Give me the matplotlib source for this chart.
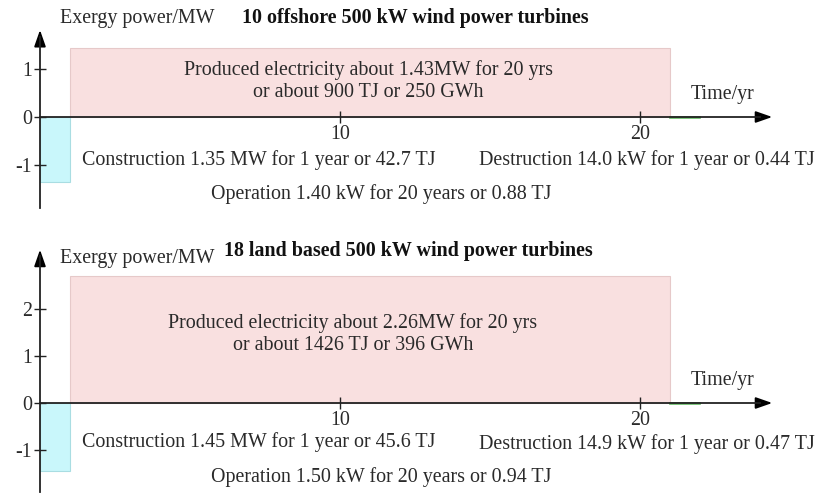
import matplotlib
matplotlib.use("Agg")
import matplotlib.pyplot as plt

plt.rcParams['font.family'] = ['Liberation Serif', 'DejaVu Serif']

# Data
titles = ["10 offshore 500 kW wind power turbines", "18 land based 500 kW wind power turbines"]
construction_mw = [1.35, 1.45]          # year 0-1, negative
produced_box_mw = [1.43, 2.70]          # year 1-21 box height as drawn
destruction_mw = [0.014, 0.0149]        # year 21-22, negative
construction_years = [0, 1]
production_years = [1, 21]
destruction_years = [21, 22]
y_ticks = [[-1, 0, 1], [-1, 0, 1, 2]]
x_ticks = [10, 20]
produced_text = ["Produced electricity about 1.43MW for 20 yrs\nor about 900 TJ or 250 GWh",
                 "Produced electricity about 2.26MW for 20 yrs\nor about 1426 TJ or 396 GWh"]
construction_text = ["Construction 1.35 MW for 1 year or 42.7 TJ",
                     "Construction 1.45 MW for 1 year or 45.6 TJ"]
destruction_text = ["Destruction 14.0 kW for 1 year or 0.44 TJ",
                    "Destruction 14.9 kW for 1 year or 0.47 TJ"]
operation_text = ["Operation 1.40 kW for 20 years or 0.88 TJ",
                  "Operation 1.50 kW for 20 years or 0.94 TJ"]

W, H = 819, 493
fig = plt.figure(figsize=(W / 100, H / 100), dpi=100)

# pixel geometry of each panel: (top_px, bottom_px, zero_px, px_per_unit, y_axis_top, y_axis_bottom)
panels = [
    (0, 232, 117, 48.0, 1.87, -1.9),
    (238, 493, 403, 47.0, 3.32, -1.9),
]
# per-panel text pixel positions
text_pos = [
    dict(exergy=18, title=(415, 18), prod=(368, 81), time=95, cons=160, dest=160, oper=194),
    dict(exergy=258, title=(408, 251), prod=(353, 334), time=381, cons=442, dest=444, oper=477),
]
x0_px = 40.0
px_per_yr = 30.0
xlim = (-x0_px / px_per_yr, (W - x0_px) / px_per_yr)

fs = 14.4
tc = '#2a2a2a'
for i, (top, bot, zero, ppu, ytop, ybot) in enumerate(panels):
    ax = fig.add_axes([0, 1 - bot / H, 1, (bot - top) / H])
    ax.set_xlim(*xlim)
    ax.set_ylim((zero - bot) / ppu, (zero - top) / ppu)
    ax.patch.set_visible(False)

    # boxes
    ax.bar(construction_years[0], -construction_mw[i], width=construction_years[1] - construction_years[0],
           align='edge', color='#c9f7fb', edgecolor='#a9dde2', linewidth=0.8, zorder=1)
    ax.bar(production_years[0], produced_box_mw[i], width=production_years[1] - production_years[0],
           align='edge', color='#f9e0e0', edgecolor='#e6c9c9', linewidth=0.8, zorder=1)
    ax.bar(destruction_years[0], -destruction_mw[i], width=destruction_years[1] - destruction_years[0],
           align='edge', color='#7cc87c', edgecolor='#66bb66', linewidth=1.2, zorder=1)

    # axes as arrows
    for s in ['top', 'right']:
        ax.spines[s].set_visible(False)
    ax.spines['left'].set_position(('data', 0))
    ax.spines['bottom'].set_position(('data', 0))
    ax.spines['left'].set_bounds(ybot, ytop - 0.2)
    ax.spines['bottom'].set_bounds(0, 24.0)
    for s in ['left', 'bottom']:
        ax.spines[s].set_linewidth(1.3)
        ax.spines[s].set_color('#222222')
        ax.spines[s].set_zorder(3)
    ax.annotate('', xy=(0, ytop), xytext=(0, ytop - 0.3),
                arrowprops=dict(arrowstyle='-|>,head_length=1.0,head_width=0.35', color='black', lw=1.3))
    ax.annotate('', xy=(24.5, 0), xytext=(23.8, 0),
                arrowprops=dict(arrowstyle='-|>,head_length=1.0,head_width=0.35', color='black', lw=1.3))

    ax.set_yticks(y_ticks[i])
    ax.set_yticklabels([str(t) for t in y_ticks[i]])
    ax.set_xticks(x_ticks)
    ax.set_xticklabels([str(t) for t in x_ticks])
    ax.tick_params(axis='both', direction='inout', length=9, width=1.0, colors='#222222',
                   labelsize=fs, labelcolor=tc)
    ax.tick_params(axis='y', pad=1)
    ax.tick_params(axis='x', pad=1)

    def px2data(px, py):
        return ((px - x0_px) / px_per_yr, (zero - py) / ppu)

    tp = text_pos[i]
    kw = dict(fontsize=fs, color=tc)
    ax.text(*px2data(60, tp['exergy']), "Exergy power/MW", ha='left', va='center', **kw)
    ax.text(*px2data(*tp['title']), titles[i],
            ha='center', va='center', fontweight='bold', fontsize=fs, color='#111111')
    ax.text(*px2data(*tp['prod']), produced_text[i], ha='center', va='center',
            linespacing=1.15, **kw)
    ax.text(*px2data(723, tp['time']), "Time/yr", ha='center', va='center', **kw)
    ax.text(*px2data(82, tp['cons']), construction_text[i], ha='left', va='center', **kw)
    ax.text(*px2data(815, tp['dest']), destruction_text[i], ha='right', va='center', **kw)
    ax.text(*px2data(381, tp['oper']), operation_text[i], ha='center', va='center', **kw)

fig.savefig("out.png", dpi=100)
